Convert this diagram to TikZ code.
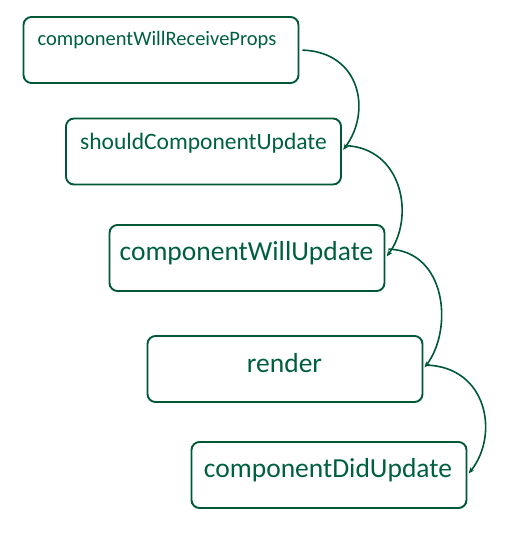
\documentclass[tikz,border=0pt]{standalone}
\usepackage{fontspec}
\setmainfont{Carlito}
\usetikzlibrary{arrows.meta}
\definecolor{dg}{RGB}{0,88,55}
\definecolor{tg}{RGB}{0,96,62}
\begin{document}
\begin{tikzpicture}[x=1pt,y=-1pt,
  box/.style={draw=dg,line width=1.9pt,rounded corners=8pt,minimum width=275pt,minimum height=66pt,inner sep=0pt},
  txt/.style={text=tg,anchor=base,inner sep=0pt},
  arr/.style={draw=dg,line width=1.6pt,shorten <=3pt,shorten >=2pt,-{Stealth[length=6pt,width=5pt]}}]
\useasboundingbox (0,0) rectangle (505,533);
\node[box] (b1) at (161,50) {};
\node[box] (b2) at (203.5,151.5) {};
\node[box] (b3) at (247,258) {};
\node[box] (b4) at (285,369) {};
\node[box] (b5) at (329,475) {};
\node[txt,font=\fontsize{20.5}{24}\selectfont] (t1) at (157,45) {componentWillReceiveProps};
\node[txt,font=\fontsize{23.5}{28}\selectfont] (t2) at (203.5,149) {shouldComponentUpdate};
\node[txt,font=\fontsize{27.5}{32}\selectfont] (t3) at (246.5,260) {componentWillUpdate};
\node[txt,font=\fontsize{27.5}{32}\selectfont] (t4) at (284.5,372) {render};
\node[txt,font=\fontsize{27.5}{32}\selectfont] (t5) at (328,477) {componentDidUpdate};
\draw[arr] (b1.east) .. controls +(61,2) and +(30,-40) .. (b2.east);
\draw[arr] ([yshift=6pt]b2.east) .. controls +(61,2) and +(30,-40) .. (b3.east);
\draw[arr] ([yshift=9pt]b3.east) .. controls +(61,2) and +(30,-40) .. (b4.east);
\draw[arr] ([yshift=4pt]b4.east) .. controls +(64,2) and +(32,-40) .. (b5.east);
\end{tikzpicture}
\end{document}
